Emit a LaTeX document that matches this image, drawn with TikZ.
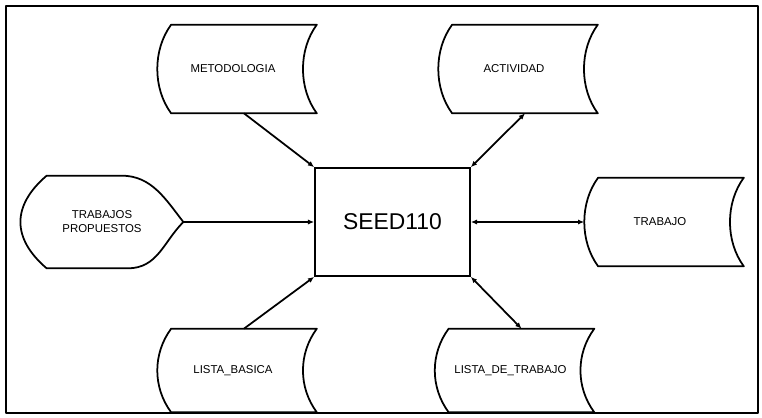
\documentclass[tikz,border=0pt]{standalone}
\usepackage{fontspec}
\setmainfont{Liberation Sans}
\usepackage{tikz}
\usetikzlibrary{arrows.meta, positioning, calc}
\tikzset{
	contorno/.style={line width=1pt, line join=round}
}
\tikzset{
	almacen/.style={minimum width=2.9cm, minimum height=1.76cm, inner sep=0pt},
	etiq/.style={font=\fontsize{6.5}{8}\selectfont, xshift=-0.22cm, align=center},
	caja/.style={draw, line width=1pt, minimum width=3.1cm, minimum height=2.16cm, font=\fontsize{13}{15}\selectfont},
	flecha/.style={line width=1pt, -{Latex[length=3.5pt,width=3pt]}},
	dobleflecha/.style={line width=1pt, {Latex[length=3.5pt,width=3pt]}-{Latex[length=3.5pt,width=3pt]}}
}
\newcommand{\almacen}[1]{%
  \draw[contorno] (#1.north west) -- (#1.north east)
    .. controls +(-0.37cm,-0.5cm) and +(-0.37cm,0.5cm) .. (#1.south east)
    -- (#1.south west)
    .. controls +(-0.37cm,0.5cm) and +(-0.37cm,-0.5cm) .. (#1.north west) -- cycle;}

\begin{document}
\begin{tikzpicture}[x=0.02cm, y=0.02cm]
      \useasboundingbox (0,0) rectangle (762,417);
      \draw[contorno] (6,4) rectangle (758,411);
      \node[caja] (seed) at (392.5,195) {SEED110};
      \node[almacen, label={[etiq]center:METODOLOGIA}] (meto) at (244,348) {};
      \node[almacen, label={[etiq]center:ACTIVIDAD}] (acti) at (525,348) {};
      \node[almacen, label={[etiq]center:TRABAJO}] (trab) at (671,195) {};
      \node[almacen, minimum height=1.66cm, label={[etiq]center:LISTA\_BASICA}] (lbas) at (244,46.5) {};
      \node[almacen, minimum height=1.66cm, label={[etiq]center:LISTA\_DE\_TRABAJO}] (ltra) at (521.5,46.5) {};
      \node[minimum width=2.72cm, minimum height=1.84cm, inner sep=0pt,
        label={[etiq, xshift=-0.04cm]center:TRABAJOS\\PROPUESTOS}] (tp) at (115,195) {};
      \foreach \n in {meto,acti,trab,lbas,ltra} {\almacen{\n}}
      \draw[contorno] (tp.north west) -- ++(1.5cm,0)
        .. controls +(0.6cm,0) and +(-0.35cm,0.45cm) .. (tp.east)
        .. controls +(-0.4cm,-0.4cm) and +(0.6cm,0) .. ([xshift=1.62cm]tp.south west)
        -- (tp.south west)
        .. controls +(-0.7cm,0.6cm) and +(-0.7cm,-0.6cm) .. (tp.north west) -- cycle;
      \draw[flecha] (meto.south) -- (seed.north west);
      \draw[dobleflecha] (seed.north east) -- (acti.south);
      \draw[flecha] (tp.east) -- (seed.west);
      \draw[dobleflecha] (seed.east) -- ([xshift=-0.28cm]trab.west);
      \draw[flecha] (lbas.north) -- (seed.south west);
      \draw[dobleflecha] (seed.south east) -- (ltra.north);
\end{tikzpicture}
\end{document}
